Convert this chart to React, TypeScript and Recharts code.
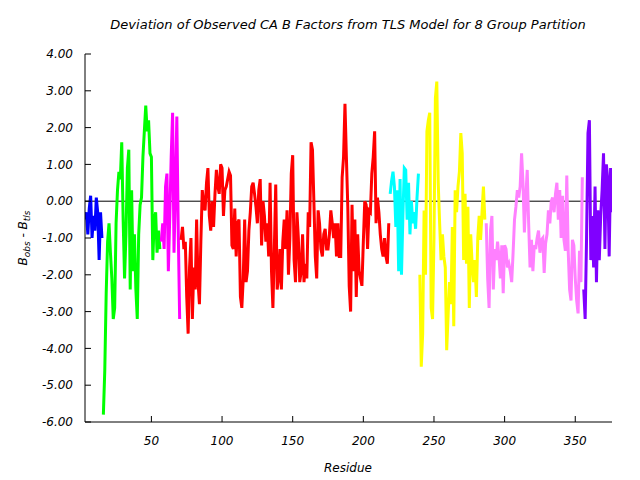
import React from "react";
import { LineChart, Line, XAxis, YAxis, ReferenceLine } from "recharts";

// residue ranges for each TLS group (first residue of each segment)
const segStarts = [3, 16, 57, 71, 219, 240, 287, 356];
const segColors = ["#0000ff", "#00ff00", "#ff00ff", "#ff0000", "#00ffff", "#ffff00", "#ff80ff", "#8000ff"];

const blueVals = [-0.5, -0.3, -0.9, -0.2, 0.15, -1.0, -0.4, -0.8, 0.1, -0.3, -1.6, -0.3, -1.0];
const greenVals = [
  -5.8, -4.6, -2.5, -1.1, -0.6, -1.4, -2.1, -3.2, -2.9, -0.6,
  0.3, 0.8, 0.6, 1.6, -0.5, -2.1, -0.9, 0.9, 1.4, -2.4,
  0.3, -1.9, -0.9, -2.4, -3.2, -0.9, -0.1, 0.1, 1.2, 1.9,
  2.6, 1.9, 2.2, 1.3, 1.2, -1.6, -0.5, -0.3, -1.4, -0.8, -1.3,
];
const magentaVals = [-1.1, -0.6, -1.3, 0.4, 0.75, -1.9, -0.4, 1.2, 2.4, -1.4, 0.3, 2.3, -0.8, -3.2];
const redVals = [
  -1.05, -0.7, -1.3, -1.1, -2.6, -3.6, -1.8, -1.0, -3.2, -1.8,
  -2.4, -0.5, -2.2, -2.8, -1.1, 0.3, -0.1, -0.25, 0.5, 0.9,
  -0.4, -0.8, 0.0, -0.7, 0.2, 0.85, 0.4, 0.2, 1.0, 0.9,
  -0.4, 0.3, 0.4, 0.6, 0.8, 0.7, -1.2, -1.3, -0.2, -1.5,
  -0.6, -0.5, -2.6, -2.9, -2.1, -0.5, -2.2, -1.9, -0.8, -0.3,
  0.4, 0.5, 0.2, -0.15, -0.6, 0.3, 0.6, -1.2, 0.0, -0.4,
  -1.1, -0.6, -1.5, 0.5, -1.9, -2.9, -1.3, 0.45, -2.4, -2.1,
  -1.3, -2.4, -1.1, -0.5, -1.3, -0.25, -2.0, -1.0, 0.75, 1.25,
  -1.6, -2.2, -0.3, -1.0, -2.2, -1.9, -0.9, -2.2, -1.7, -2.1,
  -0.3, -0.7, 1.6, 1.4, 0.0, -1.5, -2.1, -0.25, -0.6, -1.3,
  -1.5, -0.9, -0.75, -1.3, -1.3, -0.9, -0.25, -0.6, -1.0, -0.6,
  -1.5, -0.6, -1.5, -1.5, 0.65, 1.2, 2.65, 1.2, -0.15, -2.3,
  -3.0, -0.1, -1.9, -0.5, -2.6, -0.9, -1.9, -2.1, -2.3, -1.1,
  0.0, -0.1, -1.3, -0.25, -0.3, 0.75, 1.2, 1.9, -0.6, 0.1,
  -0.3, -0.9, -1.3, -1.5, -1.0, -1.5, -1.7, -0.6,
];
const cyanVals = [0.2, 0.55, 0.8, 0.4, -0.7, 0.3, -1.9, 0.6, -2.0, -0.4, 0.9, 0.85, -0.5, 0.5, -0.9, 0.0, -0.6, -0.3, -0.75, 0.1, 0.75];
const yellowVals = [
  -2.0, -4.5, -3.6, -0.25, -2.0, 1.9, 2.2, 2.4, -2.9, -3.2,
  -1.0, 2.8, 3.25, 0.5, -0.6, -1.6, -0.9, -1.5, -1.8, -4.05,
  -3.1, -2.2, -2.8, -0.7, -3.4, 0.3, -0.3, 0.4, 0.8, 1.85,
  1.3, -1.6, 0.2, -1.7, -0.15, -2.9, -0.9, -1.7, -2.2, -1.6,
  -2.6, -1.0, -0.4, -1.05, -0.3, 0.4, -0.5,
];
const pinkVals = [
  -0.6, -2.1, -2.9, -0.8, -0.4, -2.4, -1.3, -1.6, -1.1, -1.5,
  -2.1, -1.2, -2.5, -1.2, -1.3, -1.8, -1.7, -1.9, -2.2, -1.4,
  -0.5, -0.15, 0.3, 0.1, 0.4, 1.3, 0.5, -0.85, 0.1, 0.85,
  -0.6, -1.8, -1.05, -1.9, -1.2, -1.3, -1.0, -0.8, -1.4, -1.05,
  -1.0, -1.95, -1.15, -0.9, -0.25, -0.6, 0.0, 0.1, -0.3, 0.2,
  0.5, -0.5, 0.3, -1.0, 0.15, -1.05, -1.35, 0.7, -1.35, -2.4,
  -2.7, -1.05, -1.2, -2.1, -2.7, -3.05, -1.35, -2.2, 0.65,
];
const purpleVals = [-2.4, -3.2, -1.0, 1.85, 2.2, -1.6, -0.4, -1.8, 0.4, -2.2, -0.25, -1.6, -0.4, 0.3, 1.3, -1.3, 1.0, 0.6, -1.5, 0.9, -0.3];

const xTicks = [50, 100, 150, 200, 250, 300, 350];
const yTicks = [-6, -5, -4, -3, -2, -1, 0, 1, 2, 3, 4];

const segValues = [blueVals, greenVals, magentaVals, redVals, cyanVals, yellowVals, pinkVals, purpleVals];

function toPoints(start: number, vals: number[]) {
  return vals.map((y, i) => ({ x: start + i, y }));
}

const font = "'DejaVu Sans', sans-serif";
const tickStyle = { fontSize: 12, fontStyle: "italic", fontFamily: font, fill: "#000" };

export default function App() {
  return (
    <div style={{ position: "absolute", left: 0, top: 0, width: 640, height: 480, background: "#fff" }}>
      <LineChart width={640} height={480} margin={{ top: 54, right: 28, bottom: 0, left: 0 }}>
        <XAxis
          type="number"
          dataKey="x"
          domain={[3, 376]}
          ticks={xTicks}
          interval={0}
          height={58}
          tickSize={-6}
          tickMargin={20}
          stroke="#000"
          tick={tickStyle}
          allowDataOverflow
        />
        <XAxis
          xAxisId="top"
          orientation="top"
          type="number"
          domain={[3, 376]}
          ticks={xTicks}
          interval={0}
          height={0}
          tickSize={-6}
          tick={false}
          stroke="#000"
          allowDataOverflow
        />
        <YAxis
          type="number"
          domain={[-6, 4]}
          ticks={yTicks}
          interval={0}
          width={85}
          tickSize={-6}
          tickMargin={18}
          tickFormatter={(v: number) => v.toFixed(2)}
          stroke="#000"
          tick={tickStyle}
          allowDataOverflow
        />
        <YAxis
          yAxisId="right"
          orientation="right"
          type="number"
          domain={[-6, 4]}
          ticks={yTicks}
          interval={0}
          width={0}
          tickSize={-6}
          tick={false}
          stroke="#000"
          allowDataOverflow
        />
        <ReferenceLine y={0} stroke="#000" strokeWidth={1} />
        {segValues.map((vals, i) => (
          <Line
            key={i}
            data={toPoints(segStarts[i], vals)}
            dataKey="y"
            type="linear"
            stroke={segColors[i]}
            strokeWidth={3}
            dot={false}
            activeDot={false}
            isAnimationActive={false}
          />
        ))}
      </LineChart>
      <svg width={640} height={480} style={{ position: "absolute", left: 0, top: 0, pointerEvents: "none" }}>
        <text x={348} y={29} textAnchor="middle" fontFamily={font} fontStyle="italic" fontSize={13}>
          Deviation of Observed CA B Factors from TLS Model for 8 Group Partition
        </text>
        <text x={348} y={472} textAnchor="middle" fontFamily={font} fontStyle="italic" fontSize={12}>
          Residue
        </text>
        <text transform="translate(27,238) rotate(-90)" textAnchor="middle" fontFamily={font} fontStyle="italic" fontSize={12}>
          B<tspan fontSize={9} dy={3}>obs</tspan>
          <tspan dy={-3}> - B</tspan>
          <tspan fontSize={9} dy={3}>tls</tspan>
        </text>
      </svg>
    </div>
  );
}
